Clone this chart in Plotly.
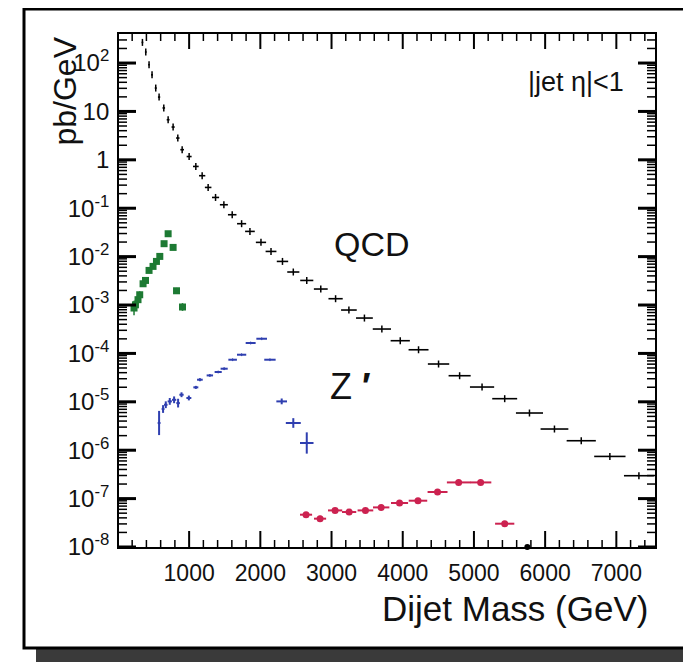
import plotly.graph_objects as go

# ---------------- data ----------------
qcd_mass = [344, 391, 437, 479, 531, 578, 644, 705, 775, 841, 902, 1000, 1094, 1183,
            1267, 1371, 1488, 1605, 1737, 1854, 2009, 2150, 2311, 2463, 2652, 2849,
            3057, 3244, 3462, 3707, 3965, 4222, 4503, 4799, 5114, 5432, 5780, 6131,
            6507, 6909, 7317]
qcd_xs = [267, 169, 92, 57, 30.4, 19.8, 11.8, 6.74, 4.76, 2.82, 1.62, 1.17, 0.73, 0.47,
          0.269, 0.167, 0.118, 0.0734, 0.0479, 0.0332, 0.0197, 0.0128, 0.00796, 0.00481,
          0.00322, 0.00214, 0.00135, 7.88e-4, 5.38e-4, 3.19e-4, 1.83e-4, 1.19e-4, 6.04e-5,
          3.46e-5, 2.02e-5, 1.16e-5, 5.87e-6, 2.74e-6, 1.57e-6, 7.44e-7, 2.97e-7]
qcd_halfwidth = [12, 12, 12, 14, 14, 16, 18, 20, 22, 24, 26, 35, 40, 44, 46, 50, 56, 60,
                 64, 68, 72, 76, 80, 85, 92, 97, 100, 110, 118, 128, 135, 140, 150, 155,
                 170, 175, 190, 195, 205, 220, 210]

green_mass = [226, 246, 282, 306, 353, 387, 437, 493, 541, 588, 648, 705, 775, 823, 907]
green_xs = [8.67e-4, 1.01e-3, 1.29e-3, 1.63e-3, 2.75e-3, 3.22e-3, 5.19e-3, 6.28e-3,
            7.96e-3, 1.01e-2, 1.85e-2, 2.97e-2, 1.55e-2, 1.97e-3, 9.1e-4]
green_err_dex = [0.15, 0.1, 0.08, 0.07, 0.06, 0.06, 0.05, 0.05, 0.05, 0.05, 0.05, 0.05,
                 0.05, 0.06, 0.08]

blue_mass = [578, 634, 672, 728, 789, 845, 893, 996, 1094, 1151, 1291, 1408, 1492, 1611,
             1737, 1864, 2019, 2135, 2300, 2463, 2652]
blue_xs = [3.65e-6, 7.1e-6, 8.7e-6, 1.02e-5, 1.10e-5, 9.4e-6, 1.40e-5, 1.20e-5, 1.99e-5,
           2.86e-5, 3.51e-5, 4.13e-5, 4.83e-5, 7.41e-5, 9.4e-5, 1.64e-4, 2.01e-4,
           7.41e-5, 1.02e-5, 3.65e-6, 1.41e-6]
blue_halfwidth = [20, 20, 25, 30, 30, 25, 30, 35, 35, 40, 45, 50, 50, 60, 65, 70, 75, 80,
                  75, 105, 95]
blue_err_dex = [0.25, 0.08, 0.07, 0.07, 0.07, 0.09, 0.05, 0.05, 0.03, 0.03, 0.02, 0.02,
                0.02, 0.01, 0.01, 0.01, 0.01, 0.01, 0.06, 0.1, 0.22]

red_mass = [2642, 2839, 3050, 3247, 3476, 3697, 3955, 4214, 4489, 4785, 5094, 5432]
red_xs = [4.65e-8, 3.85e-8, 5.70e-8, 5.28e-8, 5.70e-8, 6.58e-8, 8.11e-8, 9.05e-8,
          1.37e-7, 2.16e-7, 2.16e-7, 3.03e-8]
red_halfwidth = [85, 85, 100, 100, 110, 115, 120, 130, 140, 165, 150, 135]
red_err_dex = [0.05, 0.06, 0.04, 0.04, 0.04, 0.04, 0.04, 0.04, 0.05, 0.04, 0.04, 0.04]

axis_dot_mass = [5750]
axis_dot_xs = [1e-8]

x_tickvals = [1000, 2000, 3000, 4000, 5000, 6000, 7000]
x_ticktext = ["1000", "2000", "3000", "4000", "5000", "6000", "7000"]
y_tickvals = [1e2, 1e1, 1, 1e-1, 1e-2, 1e-3, 1e-4, 1e-5, 1e-6, 1e-7, 1e-8]
y_ticktext = ["10<sup>2</sup>", "10", "1", "10<sup>-1</sup>", "10<sup>-2</sup>",
              "10<sup>-3</sup>", "10<sup>-4</sup>", "10<sup>-5</sup>", "10<sup>-6</sup>",
              "10<sup>-7</sup>", "10<sup>-8</sup>"]

# minor tick positions (axis decoration)
x_minor = [m for m in range(200, 7600, 200) if m % 1000 != 0]
y_minor = [k * 10.0 ** e for e in range(-8, 3) for k in range(2, 10) if k * 10.0 ** e < 400]


def err_up(vals, dex):
    return [v * (10 ** d - 1) for v, d in zip(vals, dex)]


def err_dn(vals, dex):
    return [v * (1 - 10 ** (-d)) for v, d in zip(vals, dex)]


# ---------------- geometry (screen pixels) ----------------
W, H = 691, 662
OFF = 8                      # the page body adds an 8px margin around the figure div
L, R, T, B = 119, 655, 34, 547  # plot area as it should appear on screen
XR = [15, 7543]
YR = [-8, 2.6]
PW, PH = R - L, B - T


def px(xp):
    return (xp - L) / PW


def py(yp):
    return (B - yp) / PH


FONT = "Arial, Liberation Sans, Helvetica, sans-serif"

fig = go.Figure()

fig.add_trace(go.Scatter(
    x=qcd_mass, y=qcd_xs, mode="markers",
    marker=dict(symbol="line-ns-open", size=5, color="black", line=dict(width=1.5, color="black")),
    error_x=dict(type="data", array=qcd_halfwidth, width=0, thickness=1.6, color="black"),
    showlegend=False, hoverinfo="x+y"))

fig.add_trace(go.Scatter(
    x=green_mass, y=green_xs, mode="markers",
    marker=dict(symbol="square", size=7, color="#1d7a33"),
    error_y=dict(type="data", array=err_up(green_xs, green_err_dex),
                 arrayminus=err_dn(green_xs, green_err_dex), width=0, thickness=1.5,
                 color="#1d7a33"),
    showlegend=False))

fig.add_trace(go.Scatter(
    x=blue_mass, y=blue_xs, mode="markers",
    marker=dict(symbol="line-ns-open", size=2, color="#2f3fb0", line=dict(width=1, color="#2f3fb0")),
    error_x=dict(type="data", array=blue_halfwidth, width=0, thickness=2, color="#2f3fb0"),
    error_y=dict(type="data", array=err_up(blue_xs, blue_err_dex),
                 arrayminus=err_dn(blue_xs, blue_err_dex), width=0, thickness=2,
                 color="#2f3fb0"),
    showlegend=False))

fig.add_trace(go.Scatter(
    x=red_mass, y=red_xs, mode="markers",
    marker=dict(symbol="circle", size=7, color="#cc2250"),
    error_x=dict(type="data", array=red_halfwidth, width=0, thickness=2, color="#cc2250"),
    error_y=dict(type="data", array=err_up(red_xs, red_err_dex),
                 arrayminus=err_dn(red_xs, red_err_dex), width=0, thickness=1.5,
                 color="#cc2250"),
    showlegend=False))

fig.add_trace(go.Scatter(
    x=axis_dot_mass, y=axis_dot_xs, mode="markers", cliponaxis=False,
    marker=dict(symbol="circle", size=6, color="black"), showlegend=False))

# ---------------- frame / shadow ----------------
shapes = [
    dict(type="rect", xref="paper", yref="paper", layer="below",
         x0=px(36), x1=px(700), y0=py(670), y1=py(21),
         fillcolor="#3a3a3a", line=dict(width=0)),
    dict(type="rect", xref="paper", yref="paper", layer="below",
         x0=px(24), x1=px(686), y0=py(648), y1=py(9),
         fillcolor="white", line=dict(width=3, color="black")),
]


# tick marks on all four edges, pointing into the plot (positioned through the axes)
def x_tick(val, edge, length, width):
    frac = length / PH
    return dict(type="line", xref="x", yref="paper", x0=val, x1=val,
                y0=edge, y1=edge + frac if edge == 0 else edge - frac,
                line=dict(color="black", width=width), layer="above")


def y_tick(val, edge, length, width):
    frac = length / PW
    return dict(type="line", yref="y", xref="paper", y0=val, y1=val,
                x0=edge, x1=edge + frac if edge == 0 else edge - frac,
                line=dict(color="black", width=width), layer="above")


for v in x_tickvals:
    shapes.append(x_tick(v, 0, 16, 2))
    shapes.append(x_tick(v, 1, 15, 2))
for v in x_minor:
    shapes.append(x_tick(v, 0, 7, 1.5))
    shapes.append(x_tick(v, 1, 7, 1.5))
for v in y_tickvals:
    shapes.append(y_tick(v, 0, 17, 3))
    shapes.append(y_tick(v, 1, 17, 3))
for v in y_minor:
    shapes.append(y_tick(v, 0, 8, 1.5))
    shapes.append(y_tick(v, 1, 8, 1.5))

annotations = [
    dict(text="|jet η|<1", x=px(626), y=py(82), xref="paper", yref="paper",
         xanchor="right", yanchor="middle", showarrow=False,
         font=dict(family=FONT, size=27, color="#111")),
    dict(text="QCD", x=px(332), y=py(244), xref="paper", yref="paper",
         xanchor="left", yanchor="middle", showarrow=False,
         font=dict(family=FONT, size=34, color="#111")),
    dict(text="Z <b>′</b>", x=px(328), y=py(386), xref="paper", yref="paper",
         xanchor="left", yanchor="middle", showarrow=False,
         font=dict(family=FONT, size=36, color="#111")),
    dict(text="Dijet Mass (GeV)", x=px(650), y=py(609), xref="paper", yref="paper",
         xanchor="right", yanchor="middle", showarrow=False,
         font=dict(family=FONT, size=35, color="#111")),
    dict(text="pb/GeV", x=px(64), y=py(35), xref="paper", yref="paper",
         xanchor="center", yanchor="top", showarrow=False, textangle=-90,
         font=dict(family=FONT, size=32, color="#111")),
]

fig.update_layout(
    width=W, height=H, autosize=False,
    margin=dict(l=L - OFF, r=W - (R - OFF), t=T - OFF, b=H - (B - OFF), pad=0),
    paper_bgcolor="white", plot_bgcolor="rgba(0,0,0,0)",
    shapes=shapes, annotations=annotations,
    font=dict(family=FONT, color="#111"),
    xaxis=dict(type="linear", range=XR, showgrid=False, zeroline=False,
               showline=True, linecolor="black", linewidth=1.8, mirror=True,
               ticks="", tickmode="array", tickvals=x_tickvals, ticktext=x_ticktext,
               tickfont=dict(family=FONT, size=23, color="#111"), ticklabelstandoff=4),
    yaxis=dict(type="log", range=YR, showgrid=False, zeroline=False,
               showline=True, linecolor="black", linewidth=1.8, mirror=True,
               ticks="", tickmode="array", tickvals=y_tickvals, ticktext=y_ticktext,
               tickfont=dict(family=FONT, size=24, color="#111"), ticklabelstandoff=3),
)

fig.write_html("out.html")
